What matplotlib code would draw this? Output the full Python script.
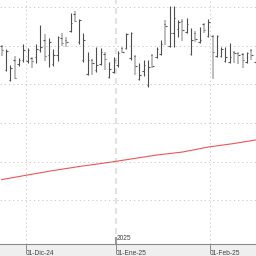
import matplotlib.pyplot as plt

plt.rcParams['font.family'] = ['Liberation Sans', 'DejaVu Sans']
plt.rcParams['lines.scale_dashes'] = False

# daily OHLC, one entry per session (late Nov-24 .. mid Feb-25)
highs = [10.51, 10.46, 10.25, 10.37, 10.34, 10.53, 10.47, 10.36, 10.53, 10.77,
         10.66, 10.60, 10.46, 10.63, 10.67, 10.62, 10.93, 10.95, 10.85, 10.67,
         10.42, 10.33, 10.49, 10.47, 10.42, 10.29, 10.36, 10.44, 10.49, 10.67,
         10.68, 10.38, 10.28, 10.32, 10.32, 10.40, 10.49, 10.58, 10.84, 11.02,
         11.02, 10.84, 10.85, 10.86, 10.73, 10.69, 10.75, 10.80, 10.85, 10.64,
         10.64, 10.49, 10.49, 10.54, 10.44, 10.42, 10.41, 10.42, 10.46, 10.36]
lows = [10.37, 10.18, 10.05, 10.07, 10.24, 10.29, 10.28, 10.21, 10.28, 10.42,
        10.31, 10.23, 10.24, 10.31, 10.50, 10.49, 10.68, 10.81, 10.53, 10.29,
        10.12, 10.12, 10.16, 10.25, 10.19, 10.08, 10.15, 10.23, 10.41, 10.46,
        10.32, 10.12, 10.06, 10.11, 9.97, 10.21, 10.34, 10.38, 10.51, 10.49,
        10.49, 10.62, 10.56, 10.67, 10.38, 10.55, 10.54, 10.67, 10.62, 10.07,
        10.36, 10.36, 10.29, 10.28, 10.28, 10.27, 10.21, 10.28, 10.32, 10.28]
opens = [10.50, 10.19, 10.06, 10.32, 10.27, 10.32, 10.31, 10.34, 10.36, 10.45,
         10.58, 10.38, 10.27, 10.38, 10.60, 10.58, 10.69, 10.92, 10.55, 10.32,
         10.14, 10.32, 10.19, 10.27, 10.40, 10.10, 10.16, 10.25, 10.47, 10.47,
         10.34, 10.37, 10.07, 10.17, 9.99, 10.38, 10.36, 10.40, 10.79, 10.50,
         10.67, 10.72, 10.83, 10.68, 10.40, 10.67, 10.55, 10.79, 10.63, 10.63,
         10.37, 10.37, 10.31, 10.29, 10.42, 10.41, 10.40, 10.29, 10.45, 10.29]
closes = [10.45, 10.44, 10.21, 10.08, 10.32, 10.45, 10.45, 10.31, 10.46, 10.49,
          10.37, 10.55, 10.38, 10.62, 10.54, 10.55, 10.80, 10.82, 10.84, 10.58,
          10.32, 10.28, 10.25, 10.42, 10.33, 10.20, 10.32, 10.41, 10.42, 10.66,
          10.67, 10.24, 10.12, 10.25, 10.23, 10.24, 10.46, 10.53, 10.76, 10.67,
          10.86, 10.81, 10.71, 10.79, 10.58, 10.59, 10.58, 10.71, 10.81, 10.42,
          10.63, 10.46, 10.36, 10.36, 10.41, 10.38, 10.32, 10.41, 10.38, 10.33]

# slow moving average, read every 6 sessions
ma_idx = [0, 6, 12, 18, 24, 30, 36, 42, 48, 54, 59]
ma_val = [8.765, 8.825, 8.883, 8.935, 8.981, 9.032, 9.084, 9.123, 9.188, 9.234, 9.279]

month_pos = [5.6, 26.5, 48.3]
month_labels = ["01-Dic-24", "01-Ene-25", "01-Feb-25"]
year_label = "2025"
price_grid = [8.5, 9.0, 9.5, 10.0, 10.5, 11.0]

fig = plt.figure(figsize=(2.56, 2.56), dpi=100, facecolor="#efefef")
ax = fig.add_axes([0, 12 / 256, 1, 244 / 256])
ax.set_facecolor("white")

# grid
for y in price_grid:
    ax.axhline(y, color="#cfcfcf", lw=0.7, ls=(0, (1, 2)), zorder=0)
ax.axvline(month_pos[0], color="#cfcfcf", lw=0.7, ls=(0, (1, 2)), zorder=0)
ax.axvline(month_pos[2], color="#cfcfcf", lw=0.7, ls=(0, (1, 2)), zorder=0)
ax.axvline(month_pos[1], color="#e3e3e3", lw=1.5, ls=(0, (4.3, 2.9)), zorder=0)

# bars
x = list(range(len(highs)))
up = [c >= o for o, c in zip(opens, closes)]
cols = ["#4d4d4d" if u else "#b9b9b9" for u in up]
lws = [0.8 if u else 1.3 for u in up]
ax.vlines(x, lows, highs, colors=cols, linewidths=lws, zorder=2)
ax.hlines(opens, [i - 0.35 for i in x], x, colors="#555555", lw=0.8, zorder=3)
ax.hlines(closes, x, [i + 0.35 for i in x], colors="#555555", lw=0.8, zorder=3)

ax.plot(ma_idx, ma_val, color="#f05555", lw=0.8, zorder=2)

ax.set_xlim(-0.4, 59.1)
ax.set_ylim(7.929, 11.097)

for s in ["left", "right", "top"]:
    ax.spines[s].set_visible(False)
ax.spines["bottom"].set_color("#8a8a8a")
ax.spines["bottom"].set_linewidth(0.8)
ax.tick_params(axis="y", left=False, labelleft=False)
ax.set_xticks(month_pos)
ax.set_xticklabels(month_labels, ha="left")
ax.tick_params(axis="x", length=4, width=0.7, color="#8a8a8a", pad=0.5,
               labelsize=4.8, labelcolor="#444444")

# year separator mark
ax.vlines(month_pos[1], 0, 7 / 244, transform=ax.get_xaxis_transform(),
          colors="#9a9a9a", lw=1.5, zorder=4, clip_on=False)
ax.text(month_pos[1] + 0.2, 2 / 244, year_label, transform=ax.get_xaxis_transform(),
        fontsize=4.8, color="#444444", ha="left", va="bottom")

fig.savefig("out.png", dpi=100)
